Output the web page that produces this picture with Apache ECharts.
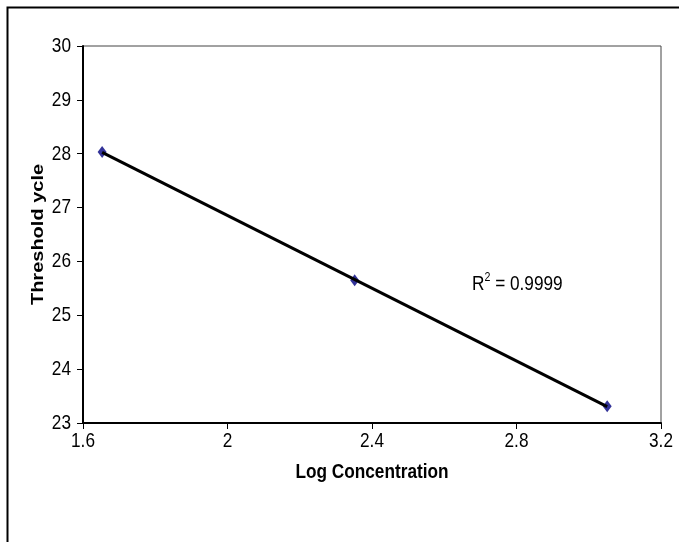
<!DOCTYPE html>
<html><head><meta charset="utf-8">
<script src="https://cdn.jsdelivr.net/npm/echarts@6/dist/echarts.min.js"></script>
<style>html,body{margin:0;padding:0;background:#fff}#c{width:679px;height:542px}</style>
</head><body><div id="c"></div>
<script>
const logConc = [1.653, 2.352, 3.051];
const thresholdCycle = [28.03, 25.65, 23.31];
const xTicks = [1.6, 2, 2.4, 2.8, 3.2];
const yTicks = [23, 24, 25, 26, 27, 28, 29, 30];
const xTitle = 'Log Concentration';
const yTitle = 'Threshold ycle';
const r2Text = '0.9999';

// least-squares trendline from the data
const n = logConc.length;
const mx = logConc.reduce((a,b)=>a+b,0)/n, my = thresholdCycle.reduce((a,b)=>a+b,0)/n;
let sxy=0, sxx=0;
for (let i=0;i<n;i++){ sxy+=(logConc[i]-mx)*(thresholdCycle[i]-my); sxx+=(logConc[i]-mx)**2; }
const slope = sxy/sxx, icpt = my - slope*mx;
const xLo = Math.min(...logConc), xHi = Math.max(...logConc);
const trend = [[xLo, icpt+slope*xLo],[xHi, icpt+slope*xHi]];

const FONT = '"Liberation Sans", Arial, sans-serif';
const SQ = 0.82; // horizontal squeeze of the reference text
const chart = echarts.init(document.getElementById('c'), null, {renderer:'canvas'});
chart.setOption({
  animation:false,
  backgroundColor:'#fff',
  grid:{left:83, top:46, width:578, height:377, show:true, borderColor:'#444', borderWidth:1, backgroundColor:'transparent'},
  xAxis:{type:'value', min:xTicks[0], max:xTicks[xTicks.length-1], interval:0.4,
    axisLine:{onZero:false, lineStyle:{color:'#000', width:2}},
    axisTick:{show:true, inside:false, length:6, lineStyle:{color:'#000', width:1}},
    axisLabel:{show:false},
    splitLine:{show:false}},
  yAxis:{type:'value', min:yTicks[0], max:yTicks[yTicks.length-1], interval:1,
    axisLine:{show:true, onZero:false, lineStyle:{color:'#000', width:2}},
    axisTick:{show:true, inside:false, length:6, lineStyle:{color:'#000', width:1}},
    axisLabel:{show:false},
    splitLine:{show:false}},
  series:[
    {type:'scatter', data:logConc.map((x,i)=>[x, thresholdCycle[i]]), symbol:'diamond', symbolSize:[9,12],
      itemStyle:{color:'#000080'}, z:2},
    {type:'line', data:trend, showSymbol:false, symbol:'none', lineStyle:{color:'#000', width:3}, z:3, silent:true}
  ]
});

const g = [
  {type:'rect', left:5, top:5, shape:{x:0,y:0,width:700,height:560}, style:{fill:'none', stroke:'#000', lineWidth:2}, z:-10}
];
const y0 = chart.convertToPixel({gridIndex:0}, [xTicks[0], yTicks[0]]);
const y1 = chart.convertToPixel({gridIndex:0}, [xTicks[xTicks.length-1], yTicks[yTicks.length-1]]);
yTicks.forEach(v=>{
  const p = chart.convertToPixel({gridIndex:0}, [xTicks[0], v]);
  g.push({type:'text', x:p[0]-12, y:p[1], scaleX:SQ, style:{text:String(v), font:'21px '+FONT, fill:'#000', align:'right', verticalAlign:'middle'}});
});
xTicks.forEach(v=>{
  const p = chart.convertToPixel({gridIndex:0}, [v, yTicks[0]]);
  g.push({type:'text', x:p[0], y:p[1]+18, scaleX:SQ, style:{text:String(v), font:'21px '+FONT, fill:'#000', align:'center', verticalAlign:'middle'}});
});
g.push({type:'text', x:(y0[0]+y1[0])/2, y:y0[1]+49, scaleX:SQ, style:{text:xTitle, font:'bold 21px '+FONT, fill:'#000', align:'center', verticalAlign:'middle'}});
g.push({type:'text', x:38, y:(y0[1]+y1[1])/2, rotation:Math.PI/2, scaleY:SQ, style:{text:yTitle, font:'bold 20px '+FONT, fill:'#000', align:'center', verticalAlign:'middle'}});
g.push({type:'text', x:472, y:283, scaleX:SQ, style:{
  text:'{b|R}{s|2}{b| = '+r2Text+'}', verticalAlign:'middle', align:'left',
  rich:{b:{fontFamily:FONT, fontSize:21, fill:'#000', verticalAlign:'bottom', lineHeight:24},
        s:{fontFamily:FONT, fontSize:13, fill:'#000', verticalAlign:'top', lineHeight:24, padding:[0,0,12,0]}}}});
chart.setOption({graphic:g});
</script></body></html>
